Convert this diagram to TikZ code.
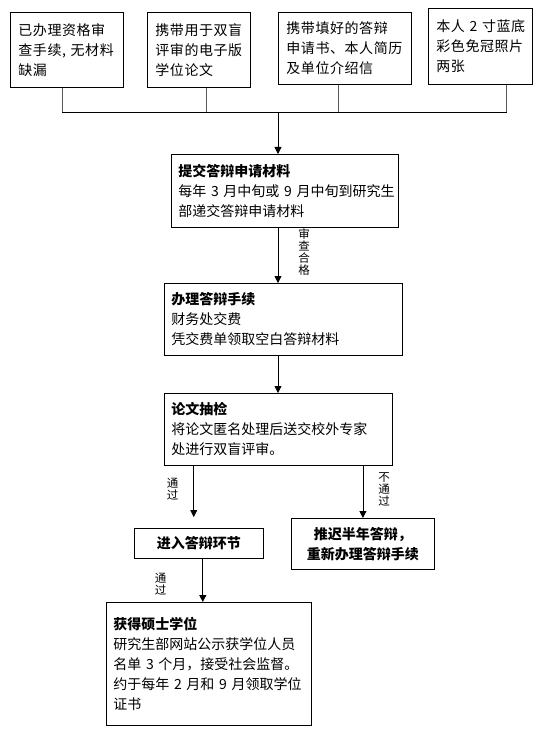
\documentclass[tikz,border=0pt]{standalone}
\usepackage{fontspec}
\setmainfont{Noto Sans CJK SC}
\newfontfamily\cjkwide[LetterSpace=4]{Noto Sans CJK SC}
\usetikzlibrary{arrows.meta, positioning, calc}

\begin{document}
\begin{tikzpicture}[
    x=1pt, y=-1pt,
    base/.style={
        rectangle,
        draw,
        line width=0.8pt,
        anchor=north west,
        inner ysep=0pt,
        inner xsep=7pt,
        font=\fontsize{14}{20}\selectfont
    },
    topbox/.style={
        base,
        align=left,
        inner xsep=8pt,
        font=\cjkwide\fontsize{14}{20}\selectfont
    },
    stepbox/.style={
        base,
        align=left
    },
    headbox/.style={
        base,
        align=center,
        font=\fontsize{14}{20}\selectfont\bfseries
    },
    line/.style={
        draw,
        line width=0.8pt,
        -{Triangle[length=7pt, width=7pt]}
    },
    stub/.style={
        draw,
        line width=0.8pt,
        gray!70!black
    },
    tag/.style={
        align=center,
        inner sep=0pt,
        font=\fontsize{11.5}{12.3}\selectfont
    }
]
    \useasboundingbox (0,0) rectangle (549,735);

    % --- Nodes ---

    % Materials to bring
    \node [topbox, minimum width=113pt, text width=97pt, minimum height=75pt] (qual) at (10,12) {已办理资格审\\查手续, 无材料\\缺漏};
    \node [topbox, minimum width=103pt, text width=87pt, minimum height=75pt] (thesis) at (147,12) {携带用于双盲\\评审的电子版\\学位论文};
    \node [topbox, minimum width=133pt, text width=117pt, minimum height=72pt] (form) at (278,12) {携带填好的答辩\\申请书、本人简历\\及单位介绍信};
    \node [topbox, minimum width=104pt, text width=88pt, minimum height=76pt] (photo) at (428,8) {本人~2~寸蓝底\\彩色免冠照片\\两张};

    % Main steps
    \node [stepbox, minimum width=227pt, text width=213pt, minimum height=73pt] (submit) at (171,154) {\textbf{提交答辩申请材料}\\每年~3~月中旬或~9~月中旬到研究生\\部递交答辩申请材料};
    \node [stepbox, minimum width=238pt, text width=224pt, minimum height=72pt] (handle) at (164,283) {\textbf{办理答辩手续}\\财务处交费\\凭交费单领取空白答辩材料};
    \node [stepbox, minimum width=228pt, text width=214pt, minimum height=72pt] (check) at (164,393) {\textbf{论文抽检}\\将论文匿名处理后送交校外专家\\处进行双盲评审。};

    % Outcomes
    \node [headbox, minimum width=129pt, minimum height=30pt] (defense) at (134,528) {进入答辩环节};
    \node [headbox, minimum width=143pt, minimum height=51pt] (delay) at (291,518) {推迟半年答辩，\\重新办理答辩手续};
    \node [stepbox, minimum width=205pt, text width=191pt, minimum height=123pt] (degree) at (106,602) {\textbf{获得硕士学位}\\研究生部网站公示获学位人员\\名单~3~个月，接受社会监督。\\约于每年~2~月和~9~月领取学位\\证书};

    % --- Connections ---

    \coordinate (join) at (278,112);
    \coordinate (q1) at ($(qual.south west)!0.46!(qual.south east)$);
    \coordinate (q2) at ($(thesis.south west)!0.57!(thesis.south east)$);
    \coordinate (q3) at ($(form.south west)!0.45!(form.south east)$);
    \coordinate (q4) at ($(photo.south west)!0.75!(photo.south east)$);
    \coordinate (fork) at ($(check.south west)!0.13!(check.south east)$);
    \coordinate (pass) at ($(defense.south west)!0.53!(defense.south east)$);

    % Collect materials
    \draw [stub] (q1) -- (q1 |- join);
    \draw [stub] (q2) -- (q2 |- join);
    \draw [stub] (q3) -- (q3 |- join);
    \draw [stub] (q4) -- (q4 |- join);
    \draw [line width=0.8pt] (q1 |- join) -- (q4 |- join);

    % Forward path
    \draw [line] (join) -- (join |- submit.north);
    \draw [line] (join |- submit.south) -- node[tag, pos=0.44, right=20pt] {审\\查\\合\\格} (join |- handle.north);
    \draw [line] (join |- handle.south) -- (join |- check.north);

    % Review result
    \draw [line, shorten >=11pt] (fork) -- node[tag, pos=0.38, left=15pt] {通\\过} (fork |- defense.north);
    \draw [line] (check.south -| delay.north) -- node[tag, pos=0.45, right=15pt] {不\\通\\过} (delay.north);
    \draw [line] (pass) -- node[tag, pos=0.59, left=36pt] {通\\过} (pass |- degree.north);

\end{tikzpicture}
\end{document}
